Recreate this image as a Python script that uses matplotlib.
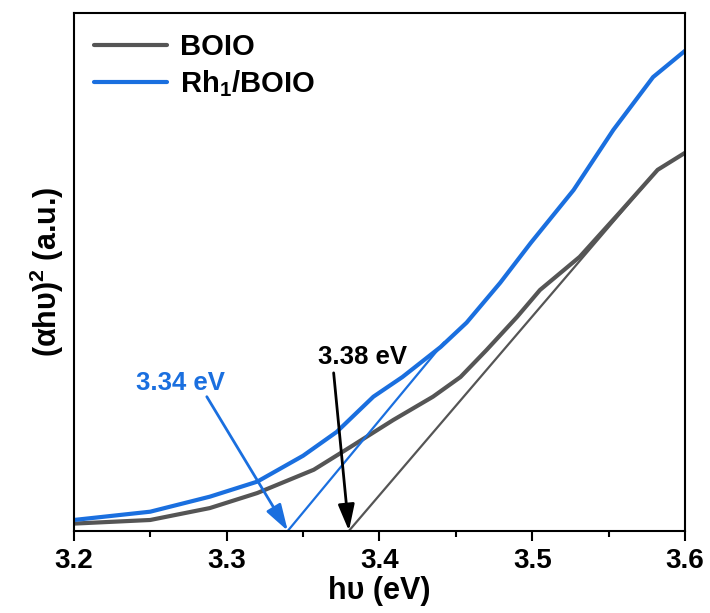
import numpy as np
import matplotlib
matplotlib.use("Agg")
import matplotlib.pyplot as plt
from matplotlib.ticker import MultipleLocator

plt.rcParams['font.family'] = ['Liberation Sans', 'DejaVu Sans']
plt.rcParams['mathtext.fontset'] = 'custom'
plt.rcParams['mathtext.rm'] = 'Liberation Sans'
plt.rcParams['mathtext.bf'] = 'Liberation Sans:bold'

# data (y in arbitrary units, 0 = bottom axis)
hv_boio = [3.200, 3.250, 3.289, 3.320, 3.357, 3.381, 3.409, 3.435, 3.453,
           3.470, 3.490, 3.505, 3.531, 3.557, 3.582, 3.600]
y_boio = [0.014, 0.021, 0.044, 0.073, 0.118, 0.162, 0.214, 0.259, 0.297,
          0.349, 0.413, 0.465, 0.529, 0.614, 0.697, 0.730]

hv_rh = [3.200, 3.250, 3.289, 3.320, 3.350, 3.372, 3.396, 3.415, 3.440,
         3.457, 3.479, 3.499, 3.527, 3.553, 3.579, 3.600]
y_rh = [0.021, 0.037, 0.066, 0.095, 0.145, 0.191, 0.259, 0.297, 0.355,
        0.402, 0.479, 0.556, 0.658, 0.774, 0.876, 0.927]

# tangent lines (onset fits)
tan_boio_x = [3.38, 3.582]
tan_boio_y = [0.0, 0.697]
tan_rh_x = [3.34, 3.442]
tan_rh_y = [0.0, 0.363]

gray = '#555555'
blue = '#1a6fdf'

fig = plt.figure(figsize=(7.10, 6.13), dpi=100)
ax = fig.add_axes([0.104, 0.134, 0.861, 0.845])

ax.plot(hv_boio, y_boio, color=gray, lw=3.0, label='BOIO', solid_capstyle='round')
ax.plot(hv_rh, y_rh, color=blue, lw=3.0, label=r'Rh$_{\mathbf{1}}$/BOIO', solid_capstyle='round')
ax.plot(tan_boio_x, tan_boio_y, color=gray, lw=1.6)
ax.plot(tan_rh_x, tan_rh_y, color=blue, lw=1.6)

# arrows and labels
ax.annotate('', xy=(3.34, 0.0), xytext=(3.287, 0.259),
            arrowprops=dict(arrowstyle='-|>,head_length=1.6,head_width=0.5',
                            color=blue, lw=2, shrinkA=0, shrinkB=0))
ax.annotate('', xy=(3.38, 0.0), xytext=(3.370, 0.305),
            arrowprops=dict(arrowstyle='-|>,head_length=1.6,head_width=0.5',
                            color='black', lw=2, shrinkA=0, shrinkB=0))
ax.text(3.270, 0.286, '3.34 eV', color=blue, fontsize=18.5, fontweight='bold',
        ha='center', va='center')
ax.text(3.389, 0.336, '3.38 eV', color='black', fontsize=18.5, fontweight='bold',
        ha='center', va='center')

ax.set_xlim(3.2, 3.6)
ax.set_ylim(0, 1)
ax.xaxis.set_major_locator(MultipleLocator(0.1))
ax.xaxis.set_minor_locator(MultipleLocator(0.05))
ax.tick_params(axis='x', which='major', direction='out', length=7, width=1.5,
               labelsize=20, pad=5)
ax.tick_params(axis='x', which='minor', direction='out', length=4, width=1.5)
ax.set_yticks([])
for lab in ax.get_xticklabels():
    lab.set_fontweight('bold')
for sp in ax.spines.values():
    sp.set_linewidth(1.5)

ax.set_xlabel('hυ (eV)', fontsize=22, fontweight='bold', labelpad=2)
ax.set_ylabel(r'(αhυ)$^{\mathbf{2}}$ (a.u.)', fontsize=22, fontweight='bold', labelpad=6)

leg = ax.legend(loc='upper left', frameon=False, fontsize=21, handlelength=2.5,
                borderaxespad=0.3, handletextpad=0.45, labelspacing=0.25)
for t in leg.get_texts():
    t.set_fontweight('bold')

fig.savefig('out.png', dpi=100)
